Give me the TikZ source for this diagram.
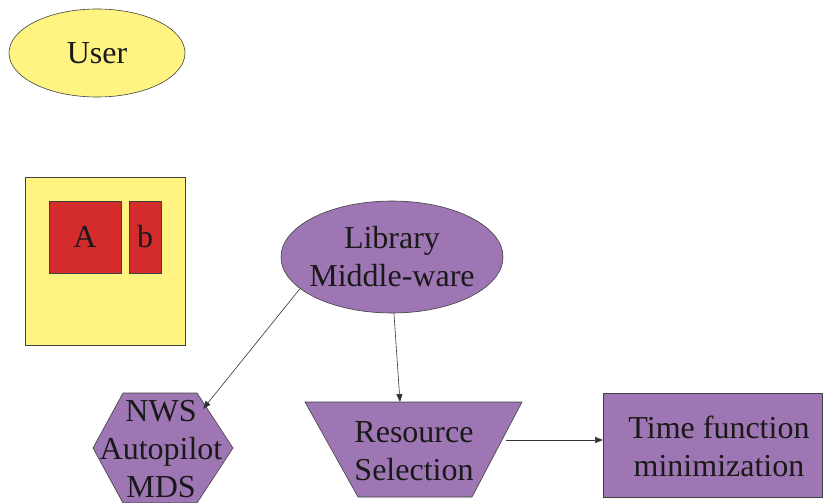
\documentclass[tikz,border=0pt]{standalone}
\usepackage{fontspec}
\setmainfont{Liberation Serif}
\usetikzlibrary{shapes.geometric,arrows.meta}
\definecolor{paleyellow}{RGB}{255,244,130}
\definecolor{lilac}{RGB}{158,118,180}
\definecolor{boxred}{RGB}{212,44,44}
\tikzset{
  every node/.style={font=\fontsize{32}{38}\selectfont, text=black!90},
  outline/.style={draw=black!75, line width=0.6pt},
  link/.style={draw=black!80, line width=0.6pt, -{Triangle[length=8pt,width=6pt]}},
}
\begin{document}
\begin{tikzpicture}[x=1pt,y=-1pt]
\useasboundingbox (0,0) rectangle (823,503);
% user ellipse
\node[outline, fill=paleyellow, ellipse, minimum width=176pt, minimum height=88pt] (user) at (97,53) {User};
% yellow panel with two red blocks
\draw[outline, fill=paleyellow] (25,177) rectangle (185,345);
\node[outline, fill=boxred, minimum width=72pt, minimum height=72pt, inner sep=0pt] (A) at (85,237) {A};
\node[outline, fill=boxred, minimum width=32pt, minimum height=72pt, inner sep=0pt] (b) at (145,237) {b};
% library ellipse (shape and label placed separately)
\node[outline, fill=lilac, ellipse, minimum width=222pt, minimum height=112pt, inner sep=0pt] (lib) at (392,257) {};
\node[align=center, inner sep=0pt] (libtext) at (392,257) {Library\\Middle-ware};
% hexagon
\draw[outline, fill=lilac] (93,448) -- (123,393) -- (197,393) -- (233,448) -- (197,503) -- (123,503) -- cycle;
\node[align=center, inner sep=0pt] (nws) at (161,449) {NWS\\Autopilot\\MDS};
\coordinate (hexTR) at (203,409);
% trapezoid
\draw[outline, fill=lilac] (305,402) -- (522,402) -- (472,497) -- (358,497) -- cycle;
\node[align=center, inner sep=0pt] (res) at (414,451) {Resource\\Selection};
\coordinate (resTop) at (400,402);
\coordinate (resRight) at (506,440);
% time box
\node[outline, fill=lilac, minimum width=219pt, minimum height=104pt, inner sep=0pt, anchor=north west] (time) at (603,393) {};
\node[align=center, inner sep=0pt] (timetext) at (719,446) {Time function\\minimization};
% connectors
\draw[link] (lib.-161) -- (hexTR);
\draw[link] (lib.-88) -- (resTop);
\draw[link] (resRight) -- (resRight -| time.west);
\end{tikzpicture}
\end{document}
